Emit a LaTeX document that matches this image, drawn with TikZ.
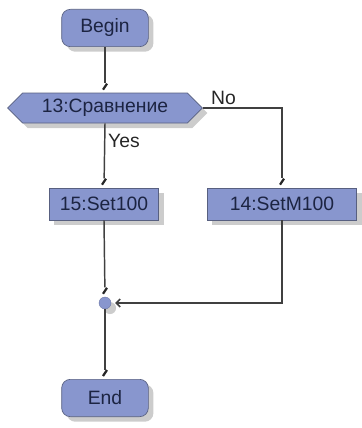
\documentclass[tikz,border=0pt]{standalone}
\usepackage{fontspec}
\setmainfont{Liberation Sans}
\usepackage{tikz}
\usetikzlibrary{calc,arrows.meta,shapes.symbols,shadows}
\usepackage{xcolor}
\definecolor{blockc}{RGB}{136,150,206}
\definecolor{edgec}{RGB}{88,96,128}
\definecolor{textc}{RGB}{28,36,66}
\tikzset{
  shd/.style={drop shadow={shadow xshift=3.8pt,shadow yshift=-3.8pt,fill=black!20,opacity=1}},
  blk/.style={fill=blockc,draw=edgec,line width=0.5pt,inner sep=0pt,text=textc,font=\fontsize{14.5}{16}\selectfont,shd},
  term/.style={blk,rectangle,rounded corners=6.5pt,minimum width=65pt,minimum height=28pt},
  cond/.style={blk,signal,signal to=west and east,signal pointer angle=90,minimum width=146pt,minimum height=22.5pt},
  act/.style={blk,rectangle,minimum height=24pt},
  merge/.style={circle,fill=blockc,draw=blockc!80!black,line width=0.3pt,minimum size=9pt,inner sep=0pt,shd},
  flow/.style={line width=1.1pt,black!75,shorten >=7pt},
  back/.style={line width=1.1pt,black!75,-{Straight Barb[length=3pt,width=6pt]},shorten >=3pt},
  tick/.style={line width=1.7pt,black!85},
  lbl/.style={font=\fontsize{14.5}{16}\selectfont,text=black!85,inner sep=1pt},
}
\begin{document}
\begin{tikzpicture}[x=0.75pt,y=0.75pt]
  \useasboundingbox (0,0) rectangle (361,-428);
  \node[term] (start) at (105,-28) {Begin};
  \node[cond] (dec) at (105,-108) {13:Сравнение};
  \node[act,minimum width=82pt] (s15) at (104,-204) {15:Set100};
  \node[act,minimum width=112pt] (s14) at (282,-204) {14:SetM100};
  \node[merge] (jn) at (105,-303) {};
  \node[term] (stop) at (105,-398) {End};
  % connectors
  \draw[flow] (start.south) -- (dec.north);
  \draw[flow] (dec.east) -| node[pos=0.13,above,lbl,yshift=1pt]{No} (s14.north);
  \draw[flow] (dec.south) -- node[pos=0.27,right,lbl,xshift=1pt]{Yes} (s15.north);
  \draw[flow] (s15.south) -- (jn.north);
  \draw[back] (s14.south) |- (jn.east);
  \draw[flow] (jn.south) -- (stop.north);
  \foreach \n in {dec,s15,s14,jn,stop}
    \draw[tick] ($(\n.north)+(-2,3)$) -- ++(4,6);
\end{tikzpicture}
\end{document}
